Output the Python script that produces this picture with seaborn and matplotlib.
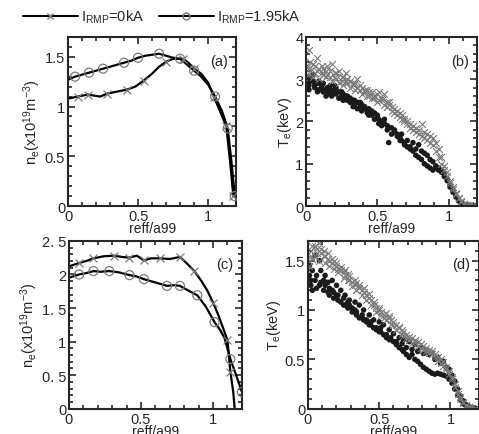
import numpy as np
import pandas as pd
import matplotlib
matplotlib.use("Agg")
import matplotlib.pyplot as plt
import seaborn as sns
from matplotlib.lines import Line2D
from matplotlib.ticker import MultipleLocator, FormatStrFormatter

sns.set_style("ticks")
plt.rcParams['font.family'] = ['Liberation Sans', 'DejaVu Sans']
plt.rcParams['mathtext.fontset'] = 'custom'
plt.rcParams['mathtext.rm'] = 'Liberation Sans'
plt.rcParams['mathtext.it'] = 'Liberation Sans'

# (a) density profiles, shot 1
a0_x = [0.00, 0.07, 0.14, 0.23, 0.28, 0.35, 0.42, 0.48, 0.54, 0.60, 0.65, 0.70,
        0.75, 0.82, 0.86, 0.90, 0.95, 1.00, 1.04, 1.08, 1.13, 1.16, 1.18]
a0_y = [1.08, 1.10, 1.12, 1.10, 1.13, 1.15, 1.17, 1.20, 1.26, 1.33, 1.40, 1.45,
        1.48, 1.48, 1.44, 1.38, 1.33, 1.24, 1.10, 0.97, 0.80, 0.40, 0.10]
a0_mark = [1, 2, 4, 6, 8, 11, 13, 15, 18, 20, 22]
a1_x = [0.00, 0.05, 0.10, 0.15, 0.20, 0.25, 0.30, 0.35, 0.40, 0.45, 0.50, 0.55, 0.60,
        0.65, 0.70, 0.75, 0.80, 0.85, 0.90, 0.95, 1.00, 1.05, 1.10, 1.14, 1.17, 1.19]
a1_y = [1.27, 1.30, 1.32, 1.34, 1.36, 1.38, 1.40, 1.42, 1.44, 1.46, 1.49, 1.51, 1.52,
        1.53, 1.51, 1.49, 1.48, 1.42, 1.36, 1.30, 1.22, 1.10, 0.95, 0.78, 0.40, 0.10]
a1_mark = [1, 3, 5, 8, 10, 13, 16, 18, 21, 23, 25]

# (c) density profiles, shot 2
c0_x = [0.00, 0.07, 0.12, 0.17, 0.24, 0.31, 0.37, 0.42, 0.47, 0.52, 0.57, 0.63, 0.70,
        0.77, 0.82, 0.87, 0.92, 0.96, 1.00, 1.03, 1.07, 1.10, 1.12, 1.14, 1.15]
c0_y = [2.12, 2.17, 2.20, 2.24, 2.27, 2.28, 2.26, 2.25, 2.28, 2.21, 2.24, 2.24, 2.23,
        2.26, 2.16, 2.05, 1.90, 1.76, 1.58, 1.43, 1.20, 1.02, 0.55, 0.25, 0.00]
c0_mark = [1, 3, 5, 7, 9, 11, 13, 15, 18, 21, 22]
c1_x = [0.00, 0.07, 0.12, 0.17, 0.22, 0.28, 0.35, 0.42, 0.47, 0.52, 0.60, 0.68,
        0.73, 0.77, 0.82, 0.89, 0.95, 1.01, 1.05, 1.08, 1.12, 1.16, 1.20]
c1_y = [1.95, 2.00, 2.02, 2.05, 2.04, 2.05, 2.03, 1.99, 1.97, 1.93, 1.88, 1.83,
        1.84, 1.83, 1.77, 1.69, 1.52, 1.29, 1.17, 1.05, 0.74, 0.50, 0.25]
c1_mark = [1, 3, 5, 7, 9, 11, 13, 15, 17, 20, 22]

# Thomson channels (shared radial positions)
te_x = [0.01, 0.02, 0.03, 0.05, 0.06, 0.08, 0.09, 0.11, 0.12, 0.14, 0.15, 0.17, 0.18,
        0.20, 0.21, 0.23, 0.25, 0.26, 0.28, 0.29, 0.31, 0.33, 0.34, 0.36, 0.38, 0.39,
        0.41, 0.43, 0.44, 0.46, 0.48, 0.50, 0.51, 0.53, 0.55, 0.57, 0.58, 0.60, 0.62,
        0.64, 0.66, 0.67, 0.69, 0.71, 0.73, 0.75, 0.77, 0.79, 0.81, 0.83, 0.85, 0.87,
        0.89, 0.91, 0.93, 0.95, 0.97, 0.99, 1.01, 1.03, 1.05, 1.07, 1.09, 1.11, 1.13,
        1.15, 1.17]

# (b) Te, 0kA (two frames) and 1.95kA (two frames)
b0_y1 = [3.30, 3.70, 3.20, 3.35, 3.15, 3.50, 3.25, 3.30, 3.10, 3.20, 3.30, 3.05, 3.35,
         3.15, 3.00, 3.20, 2.95, 3.05, 3.15, 2.90, 2.95, 2.85, 2.90, 3.00, 2.75, 2.80,
         2.70, 2.75, 2.60, 2.70, 2.55, 2.65, 2.70, 2.50, 2.65, 2.45, 2.40, 2.35, 2.30,
         2.25, 2.20, 2.15, 2.05, 2.00, 1.95, 1.90, 1.85, 1.80, 1.95, 1.75, 1.70, 1.65,
         1.60, 1.50, 1.35, 1.15, 0.95, 0.80, 0.60, 0.45, 0.32, 0.20, 0.12, 0.06, 0.03,
         0.02, 0.02]
b0_y2 = [3.10, 3.25, 3.40, 3.05, 3.30, 3.20, 3.00, 3.15, 3.25, 3.05, 3.10, 3.20, 2.95,
         3.05, 3.15, 2.90, 3.05, 2.85, 2.95, 3.00, 2.80, 2.90, 2.75, 2.80, 2.85, 2.65,
         2.75, 2.60, 2.70, 2.55, 2.60, 2.45, 2.50, 2.55, 2.40, 2.35, 2.45, 2.25, 2.20,
         2.15, 2.10, 2.05, 2.00, 1.95, 1.85, 1.80, 1.75, 1.70, 1.65, 1.60, 1.55, 1.50,
         1.45, 1.30, 1.15, 1.00, 0.85, 0.70, 0.55, 0.40, 0.28, 0.18, 0.10, 0.05, 0.03,
         0.02, 0.01]
b1_y1 = [2.90, 2.85, 3.00, 2.95, 2.80, 2.90, 2.75, 2.85, 2.70, 2.60, 2.80, 2.75, 2.70,
         2.85, 2.65, 2.70, 2.60, 2.65, 2.55, 2.60, 2.45, 2.50, 2.40, 2.45, 2.35, 2.40,
         2.30, 2.25, 2.30, 2.15, 2.20, 2.10, 2.05, 2.00, 1.95, 1.90, 1.50, 1.85, 1.75,
         1.70, 1.60, 1.55, 1.50, 1.40, 1.35, 1.30, 1.20, 1.15, 1.10, 1.00, 0.95, 0.90,
         0.85, 0.90, 0.85, 0.80, 0.75, 0.65, 0.50, 0.38, 0.25, 0.15, 0.08, 0.04, 0.02,
         0.02, 0.01]
b1_y2 = [3.05, 2.75, 2.95, 3.10, 2.85, 2.70, 2.95, 2.80, 2.90, 2.75, 2.65, 2.85, 2.60,
         2.75, 2.80, 2.55, 2.70, 2.50, 2.60, 2.50, 2.55, 2.35, 2.50, 2.30, 2.45, 2.25,
         2.35, 2.20, 2.15, 2.25, 2.05, 2.15, 1.95, 1.90, 2.05, 1.80, 1.85, 1.70, 1.80,
         1.65, 1.55, 1.70, 1.45, 1.55, 1.40, 1.50, 1.35, 1.45, 1.30, 1.25, 1.20, 1.10,
         1.05, 0.95, 0.90, 0.85, 0.70, 0.60, 0.45, 0.33, 0.22, 0.12, 0.07, 0.03, 0.02,
         0.01, 0.01]

# (d) Te, 0kA and 1.95kA
d0_y1 = [1.50, 1.60, 1.65, 1.55, 1.62, 1.68, 1.58, 1.60, 1.55, 1.52, 1.50, 1.48, 1.50,
         1.45, 1.42, 1.40, 1.38, 1.35, 1.36, 1.30, 1.28, 1.25, 1.27, 1.22, 1.20, 1.18,
         1.15, 1.12, 1.10, 1.05, 1.02, 1.00, 0.98, 0.95, 0.97, 0.92, 0.90, 0.88, 0.85,
         0.83, 0.80, 0.78, 0.75, 0.73, 0.72, 0.70, 0.68, 0.66, 0.64, 0.62, 0.60, 0.58,
         0.55, 0.52, 0.50, 0.47, 0.42, 0.38, 0.32, 0.25, 0.18, 0.12, 0.07, 0.04, 0.02,
         0.01, 0.01]
d0_y2 = [1.45, 1.55, 1.52, 1.65, 1.58, 1.50, 1.62, 1.55, 1.48, 1.58, 1.45, 1.52, 1.42,
         1.48, 1.38, 1.44, 1.32, 1.40, 1.30, 1.34, 1.24, 1.30, 1.20, 1.25, 1.15, 1.22,
         1.10, 1.16, 1.05, 1.08, 0.98, 1.02, 0.95, 0.92, 0.90, 0.94, 0.86, 0.85, 0.80,
         0.82, 0.76, 0.74, 0.72, 0.70, 0.67, 0.68, 0.64, 0.62, 0.60, 0.58, 0.56, 0.55,
         0.52, 0.48, 0.46, 0.43, 0.40, 0.35, 0.30, 0.22, 0.15, 0.10, 0.06, 0.03, 0.02,
         0.01, 0.00]
d1_y1 = [1.35, 1.25, 1.40, 1.30, 1.22, 1.50, 1.28, 1.20, 1.25, 1.18, 1.15, 1.20, 1.12,
         1.15, 1.10, 1.08, 1.12, 1.05, 1.02, 1.05, 0.98, 1.00, 0.95, 0.92, 0.95, 0.90,
         0.88, 0.85, 0.88, 0.82, 0.80, 0.78, 0.82, 0.75, 0.72, 0.70, 0.72, 0.68, 0.65,
         0.62, 0.60, 0.58, 0.55, 0.52, 0.55, 0.50, 0.48, 0.45, 0.42, 0.40, 0.38, 0.36,
         0.35, 0.36, 0.35, 0.34, 0.33, 0.30, 0.26, 0.20, 0.14, 0.09, 0.05, 0.03, 0.02,
         0.01, 0.01]
d1_y2 = [1.45, 1.30, 1.20, 1.55, 1.35, 1.25, 1.40, 1.30, 1.35, 1.28, 1.22, 1.30, 1.18,
         1.25, 1.15, 1.20, 1.05, 1.15, 1.08, 1.10, 1.02, 1.08, 0.98, 1.05, 0.92, 1.00,
         0.90, 0.95, 0.85, 0.90, 0.82, 0.88, 0.78, 0.85, 0.75, 0.80, 0.70, 0.76, 0.68,
         0.72, 0.66, 0.70, 0.62, 0.68, 0.60, 0.65, 0.58, 0.62, 0.56, 0.60, 0.55, 0.57,
         0.50, 0.52, 0.46, 0.48, 0.42, 0.40, 0.34, 0.28, 0.20, 0.13, 0.08, 0.04, 0.02,
         0.01, 0.00]

GREY = '#7a7a7a'
ne_label = r'n$_{\rm e}$(x10$^{19}$m$^{-3}$)'
te_label = r'T$_{\rm e}$(keV)'

fig = plt.figure(figsize=(4.79, 4.35), dpi=100)
ax_a = fig.add_axes([0.142, 0.524, 0.351, 0.389])
ax_b = fig.add_axes([0.639, 0.524, 0.357, 0.389])
ax_c = fig.add_axes([0.144, 0.058, 0.361, 0.386])
ax_d = fig.add_axes([0.643, 0.058, 0.357, 0.386])


def profile(ax, x, y, mark, marker):
    sns.lineplot(x=x, y=y, ax=ax, color='black', lw=1.6, sort=False, estimator=None)
    mx = [x[i] for i in mark]
    my = [y[i] for i in mark]
    if marker == 'x':
        ax.scatter(mx, my, marker='x', s=32, color=GREY, linewidths=0.9, zorder=3)
    else:
        ax.scatter(mx, my, marker='o', s=42, facecolors='none', edgecolors=GREY,
                   linewidths=0.9, zorder=3)


def te_scatter(ax, y0s, y1s):
    for y in y1s:
        sns.scatterplot(x=te_x, y=y, ax=ax, marker='o', s=16, color='#1a1a1a',
                        edgecolor='none', legend=False)
    for y in y0s:
        sns.scatterplot(x=te_x, y=y, ax=ax, marker='x', s=24, color=GREY,
                        linewidth=0.8, legend=False)


profile(ax_a, a0_x, a0_y, a0_mark, 'x')
profile(ax_a, a1_x, a1_y, a1_mark, 'o')
profile(ax_c, c0_x, c0_y, c0_mark, 'x')
profile(ax_c, c1_x, c1_y, c1_mark, 'o')
te_scatter(ax_b, [b0_y1, b0_y2], [b1_y1, b1_y2])
te_scatter(ax_d, [d0_y1, d0_y2], [d1_y1, d1_y2])

setup = [
    (ax_a, 1.7, 0.5, 0.1, ne_label, '(a)', None),
    (ax_b, 4.0, 1.0, 0.2, te_label, '(b)', None),
    (ax_c, 2.5, 0.5, 0.1, ne_label, '(c)', ['0', '0. 5', '1', '1. 5', '2', '2. 5']),
    (ax_d, 1.7, 0.5, 0.1, te_label, '(d)', None),
]
for ax, ymax, ymaj, ymin, ylab, tag, yticklabels in setup:
    ax.set_xlim(0, 1.2)
    ax.set_ylim(0, ymax)
    ax.xaxis.set_major_locator(MultipleLocator(0.5))
    ax.xaxis.set_minor_locator(MultipleLocator(0.1))
    ax.yaxis.set_major_locator(MultipleLocator(ymaj))
    ax.yaxis.set_minor_locator(MultipleLocator(ymin))
    ax.xaxis.set_major_formatter(FormatStrFormatter('%g'))
    ax.yaxis.set_major_formatter(FormatStrFormatter('%g'))
    if yticklabels is not None:
        ax.set_yticks([0, 0.5, 1, 1.5, 2, 2.5])
        ax.set_yticklabels(yticklabels)
    ax.tick_params(which='both', direction='in', top=True, right=True,
                   labelsize=10.5, pad=2, width=1.2)
    ax.tick_params(which='major', length=5)
    ax.tick_params(which='minor', length=3)
    for sp in ax.spines.values():
        sp.set_linewidth(1.5)
    ax.set_xlabel('reff/a99', fontsize=10, labelpad=-1)
    ax.set_ylabel(ylab, fontsize=10.5, labelpad=1)
    ax.text(0.95, 0.86, tag, transform=ax.transAxes, ha='right', va='center',
            fontsize=10.5)

handles = [
    Line2D([], [], color='black', lw=1.5, marker='x', markersize=5,
           markeredgecolor=GREY),
    Line2D([], [], color='black', lw=1.5, marker='o', markersize=5,
           markerfacecolor='none', markeredgecolor=GREY),
]
fig.legend(handles, [r'I$_{\rm RMP}$=0kA', r'I$_{\rm RMP}$=1.95kA'],
           loc='upper left', bbox_to_anchor=(0.02, 1.01), ncol=2, frameon=False,
           fontsize=10.5, handlelength=3.8, handletextpad=0.2, columnspacing=1.0,
           numpoints=1)

fig.savefig('out.png', dpi=100)
